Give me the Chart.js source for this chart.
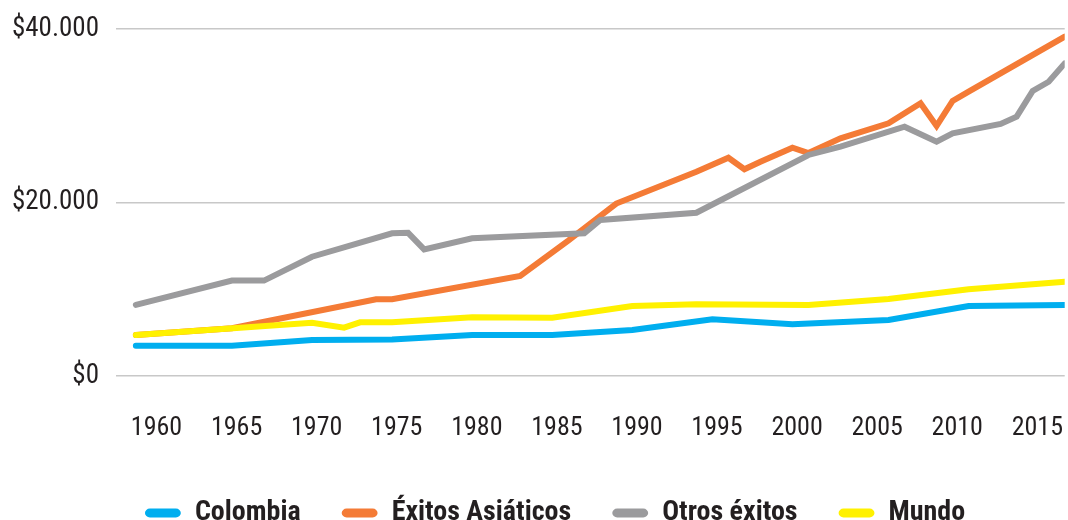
<!DOCTYPE html>
<html lang="es">
<head>
<meta charset="utf-8">
<script src="https://cdn.jsdelivr.net/npm/chart.js@4/dist/chart.umd.min.js"></script>
<style>
  html, body { margin: 0; padding: 0; background: #fff; }
  #wrap { width: 1068px; height: 520px; position: relative; }
</style>
</head>
<body>
<div id="wrap"><canvas id="chart"></canvas></div>
<script>
/* PIB per cápita 1960–2018 · Colombia vs. éxitos asiáticos, otros éxitos y mundo */

const yearTicks = [1960, 1965, 1970, 1975, 1980, 1985, 1990, 1995, 2000, 2005, 2010, 2015];
const valueTicks = [0, 20000, 40000];

const colombiaYears = [1960, 1966, 1971, 1976, 1981, 1986, 1991, 1996, 2001, 2007, 2012, 2018];
const colombiaVals  = [3490, 3490, 4150, 4200, 4730, 4730, 5300, 6540, 5960, 6460, 8070, 8180];

const asiaYears = [1960, 1966, 1975, 1976, 1984, 1987, 1990, 1995, 1997, 1998, 1999, 2001, 2002, 2004, 2007, 2009, 2010, 2011, 2012, 2018];
const asiaVals  = [4730, 5500, 8840, 8840, 11530, 15600, 19880, 23550, 25160, 23830, 24700, 26320, 25700, 27400, 29130, 31440, 28820, 31700, 32770, 39110];

const otrosYears = [1960, 1966, 1968, 1971, 1976, 1977, 1978, 1981, 1988, 1989, 1995, 2002, 2004, 2008, 2010, 2011, 2014, 2015, 2016, 2017, 2018];
const otrosVals  = [8200, 11000, 11000, 13750, 16450, 16500, 14600, 15870, 16450, 17980, 18820, 25480, 26430, 28740, 27010, 27980, 29050, 29890, 32850, 33920, 36040];

const mundoYears = [1960, 1971, 1973, 1974, 1976, 1981, 1986, 1991, 1995, 2002, 2007, 2012, 2018];
const mundoVals  = [4730, 6140, 5570, 6190, 6200, 6770, 6720, 8070, 8270, 8180, 8880, 9990, 10870];

const FONT = '"Roboto Condensed", "DejaVu Sans Condensed", sans-serif';
const INK = '#231F20';

function pts(xs, ys) {
    return xs.map((x, i) => ({ x, y: ys[i] }));
}

function lineSet(label, xs, ys, color, order) {
    return {
        label, data: pts(xs, ys), order,
        borderColor: color, backgroundColor: color,
        borderWidth: 6, borderCapStyle: 'round', borderJoinStyle: 'miter',
        pointRadius: 0, tension: 0, fill: false
    };
}

// nudges the legend row to where the original sits (slightly right and lower)
const legendNudge = {
    id: 'legendNudge',
    afterLayout(chart) {
        const l = chart.legend;
        l.left += 21; l.right += 21;
        l.top += 17;  l.bottom += 17;
    }
};

new Chart(document.getElementById('chart'), {
    type: 'line',
    data: {
        datasets: [
            lineSet('Colombia',          colombiaYears, colombiaVals, '#00AEEF', 1),
            lineSet('Éxitos Asiáticos', asiaYears,     asiaVals,     '#F47B36', 3),
            lineSet('Otros éxitos',      otrosYears,    otrosVals,    '#9B9B9D', 2),
            lineSet('Mundo',             mundoYears,    mundoVals,    '#FFF100', 0)
        ]
    },
    plugins: [legendNudge],
    options: {
        responsive: true, maintainAspectRatio: false, animation: false,
        layout: { padding: { top: 29, left: 0, right: 0, bottom: 0 } },
        plugins: {
            tooltip: { enabled: false },
            legend: {
                position: 'bottom',
                labels: {
                    color: INK,
                    font: { family: FONT, size: 28, weight: 'bold' },
                    boxWidth: 36, boxHeight: 9, padding: 41,
                    useBorderRadius: true, borderRadius: 5,
                    sort: (a, b) => a.datasetIndex - b.datasetIndex,
                    generateLabels: chart => Chart.defaults.plugins.legend.labels.generateLabels(chart)
                        .map(it => Object.assign(it, { lineWidth: 0, borderRadius: 5 }))
                }
            }
        },
        scales: {
            x: {
                type: 'linear', min: 1958.76, max: 2018,
                afterBuildTicks: s => { s.ticks = yearTicks.map(v => ({ value: v })); },
                grid: { display: false, drawTicks: true, tickLength: 39 },
                border: { display: false },
                ticks: {
                    align: 'start', padding: 0, labelOffset: -5, maxRotation: 0, autoSkip: false,
                    color: INK, font: { family: FONT, size: 26, lineHeight: 1 },
                    callback: v => String(v)
                }
            },
            y: {
                min: 0, max: 40000,
                afterBuildTicks: s => { s.ticks = valueTicks.map(v => ({ value: v })); },
                afterFit: s => { s.width = 116; s.paddingTop = 0; s.paddingBottom = 0; },
                grid: { color: '#C8C8C8', lineWidth: 1.5, drawTicks: false },
                border: { display: false },
                ticks: {
                    padding: 17, color: INK, font: { family: FONT, size: 27 },
                    callback: v => '$' + v.toLocaleString('de-DE')
                }
            }
        }
    }
});
</script>
</body>
</html>
